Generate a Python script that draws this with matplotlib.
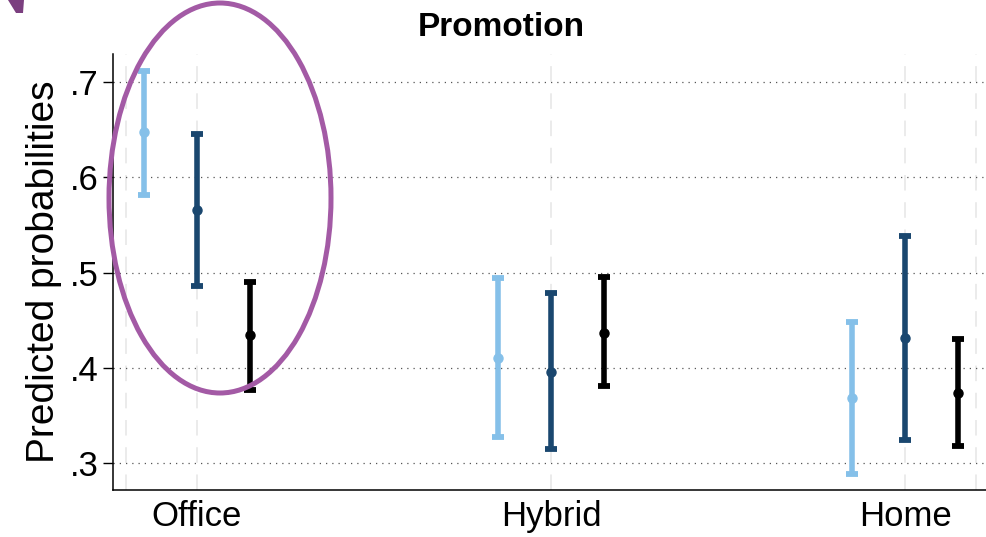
import matplotlib.pyplot as plt
from matplotlib.patches import Ellipse, Polygon
import numpy as np

plt.rcParams['font.family'] = ['Liberation Sans', 'DejaVu Sans']

# predicted probabilities of promotion by work arrangement
places = ['Office', 'Hybrid', 'Home']
series_colors = ['#85C0E9', '#1A476F', '#000000']

est = [[0.647, 0.410, 0.368],
       [0.566, 0.396, 0.431],
       [0.434, 0.437, 0.374]]
lower = [[0.581, 0.327, 0.288],
         [0.486, 0.315, 0.324],
         [0.377, 0.381, 0.318]]
upper = [[0.712, 0.494, 0.448],
         [0.645, 0.478, 0.538],
         [0.490, 0.495, 0.430]]

fig = plt.figure(figsize=(9.87, 5.37), dpi=100)
ax = fig.add_axes([113 / 987, 47 / 537, 874 / 987, 436 / 537])

x = np.arange(1, len(places) + 1)
offsets = [-0.15, 0, 0.15]
for k in range(3):
    e = np.array(est[k])
    lo = np.array(lower[k])
    hi = np.array(upper[k])
    ax.errorbar(x + offsets[k], e, yerr=[e - lo, hi - e], fmt='o',
                color=series_colors[k], ms=6.5, elinewidth=4,
                capsize=4.5, capthick=4.2, zorder=3)

# y grid and vertical guide lines
for yv in [0.3, 0.4, 0.5, 0.6, 0.7]:
    ax.axhline(yv, color='#555555', lw=0.9, ls=(0, (1, 4)), zorder=1)
for xv in [0.8, 1, 2, 3, 3.2]:
    ax.axvline(xv, color='#ebebeb', lw=1.4, ls=(0, (8, 6)), zorder=0)

ax.set_xlim(0.763, 3.231)
ax.set_ylim(0.2717, 0.7294)
ax.set_yticks([0.3, 0.4, 0.5, 0.6, 0.7])
ax.set_yticklabels(['.3', '.4', '.5', '.6', '.7'])
ax.set_xticks(x)
ax.set_xticklabels(places)
ax.tick_params(axis='y', labelsize=25, length=7, width=1, pad=3)
ax.tick_params(axis='x', labelsize=25, length=0, pad=7)
ax.set_ylabel('Predicted probabilities', fontsize=28, labelpad=6)
for s in ['top', 'right']:
    ax.spines[s].set_visible(False)
for s in ['left', 'bottom']:
    ax.spines[s].set_linewidth(1.1)

fig.text(501 / 987, 1 - 28 / 537, 'Promotion', ha='center', va='center',
         fontsize=24, fontweight='bold')

# highlight around the office group
ring = Ellipse((220 / 987, 1 - 198 / 537), 222 / 987, 390 / 537,
               transform=fig.transFigure, fill=False, ec='#A35AA5', lw=3.6,
               zorder=5)
fig.add_artist(ring)
arrow_tip = Polygon([[8 / 987, 1 - 0 / 537], [24 / 987, 1 - 0 / 537],
                     [23 / 987, 1 - 13 / 537], [16 / 987, 1 - 13 / 537]],
                    closed=True, transform=fig.transFigure, fc='#7B3F7F',
                    ec='none')
fig.add_artist(arrow_tip)

fig.savefig('out.png', dpi=100)
